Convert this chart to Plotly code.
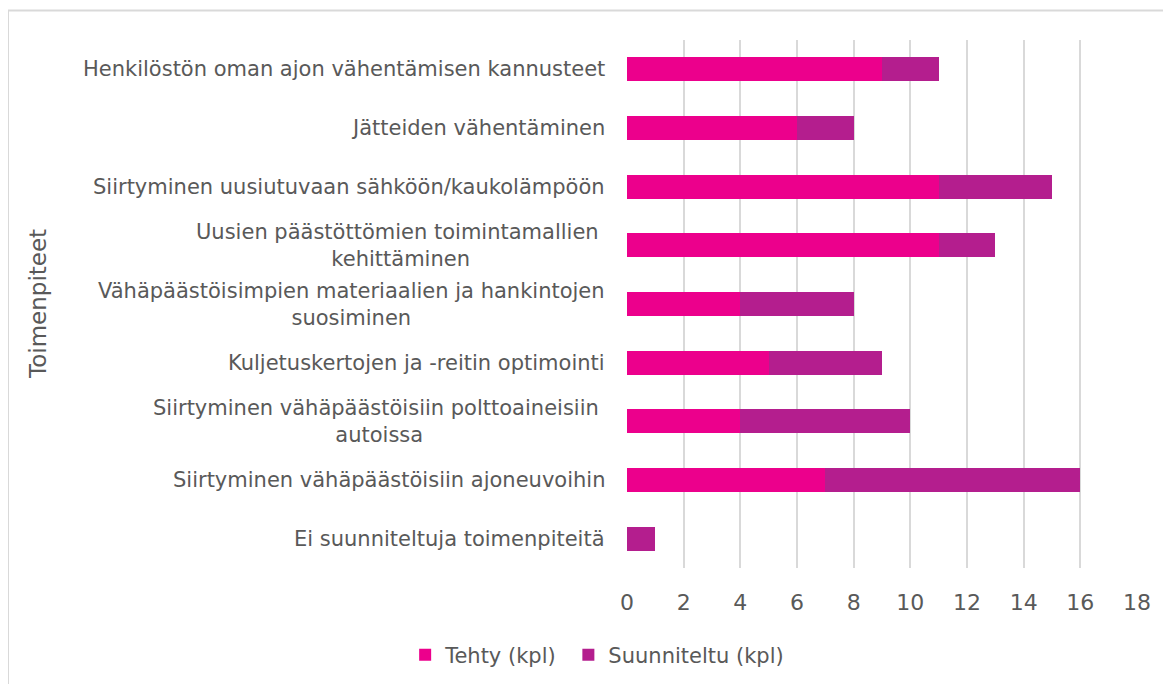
import plotly.graph_objs as go

categories = [
    "Henkilöstön oman ajon vähentämisen kannusteet",
    "Jätteiden vähentäminen",
    "Siirtyminen uusiutuvaan sähköön/kaukolämpöön",
    "Uusien päästöttömien toimintamallien kehittäminen",
    "Vähäpäästöisimpien materiaalien ja hankintojen suosiminen",
    "Kuljetuskertojen ja -reitin optimointi",
    "Siirtyminen vähäpäästöisiin polttoaineisiin autoissa",
    "Siirtyminen vähäpäästöisiin ajoneuvoihin",
    "Ei suunniteltuja toimenpiteitä",
]
# wrapped labels as shown in the chart
labels = [
    "Henkilöstön oman ajon vähentämisen kannusteet",
    "Jätteiden vähentäminen",
    "Siirtyminen uusiutuvaan sähköön/kaukolämpöön",
    "Uusien päästöttömien toimintamallien <br>kehittäminen",
    "Vähäpäästöisimpien materiaalien ja hankintojen<br>suosiminen",
    "Kuljetuskertojen ja -reitin optimointi",
    "Siirtyminen vähäpäästöisiin polttoaineisiin <br>autoissa",
    "Siirtyminen vähäpäästöisiin ajoneuvoihin",
    "Ei suunniteltuja toimenpiteitä",
]
tehty = [9, 6, 11, 11, 4, 5, 4, 7, 0]
suunniteltu = [2, 2, 4, 2, 4, 4, 6, 9, 1]
x_ticks = [0, 2, 4, 6, 8, 10, 12, 14, 16, 18]

FONT = "DejaVu Sans"
GREY = "#595959"

fig = go.Figure()
fig.add_trace(go.Bar(
    y=categories, x=tehty, name="Tehty (kpl)\u00a0", orientation="h",
    marker=dict(color="#EC008C", line=dict(width=0)),
))
fig.add_trace(go.Bar(
    y=categories, x=suunniteltu, name="Suunniteltu (kpl)", orientation="h",
    marker=dict(color="#B41E8E", line=dict(width=0)),
))

annotations = []
for cat, lab in zip(categories, labels):
    annotations.append(dict(
        x=0, xref="paper", y=cat, yref="y", text=lab, showarrow=False,
        xanchor="right", align="center", xshift=-20,
        font=dict(family=FONT, size=21, color=GREY),
    ))
annotations.append(dict(
    x=-1.155, xref="paper", y=0.5, yref="paper", text="Toimenpiteet",
    showarrow=False, textangle=-90, xanchor="center", yanchor="middle",
    font=dict(family=FONT, size=23, color=GREY),
))

# page body has an 8px margin, so the margins are trimmed to match
fig.update_layout(
    barmode="stack",
    bargap=0.59,
    width=1171, height=684,
    margin=dict(l=619, r=42, t=32, b=124),
    paper_bgcolor="white", plot_bgcolor="white",
    font=dict(family=FONT, size=21, color=GREY),
    showlegend=True,
    legend=dict(
        orientation="h", x=-0.435, xanchor="left", y=-0.165, yanchor="middle",
        font=dict(family=FONT, size=21, color=GREY), traceorder="normal",
        itemwidth=30,
    ),
    annotations=annotations,
    shapes=[dict(
        type="rect", xref="paper", yref="paper",
        x0=-1.2137, x1=1.1, y0=-0.3, y1=1.0559,
        line=dict(color="#D9D9D9", width=2), fillcolor="rgba(0,0,0,0)",
        layer="below",
    )],
)
fig.update_xaxes(
    range=[0, 18], tickvals=x_ticks, showgrid=True, gridcolor="#D9D9D9",
    gridwidth=1.5, zeroline=False, showline=False, ticks="",
    ticklabelstandoff=19, tickfont=dict(family=FONT, size=22, color=GREY),
)
fig.update_yaxes(
    autorange="reversed", showticklabels=False, showgrid=False,
    zeroline=False, showline=False, ticks="",
)

fig.write_html("out.html")
